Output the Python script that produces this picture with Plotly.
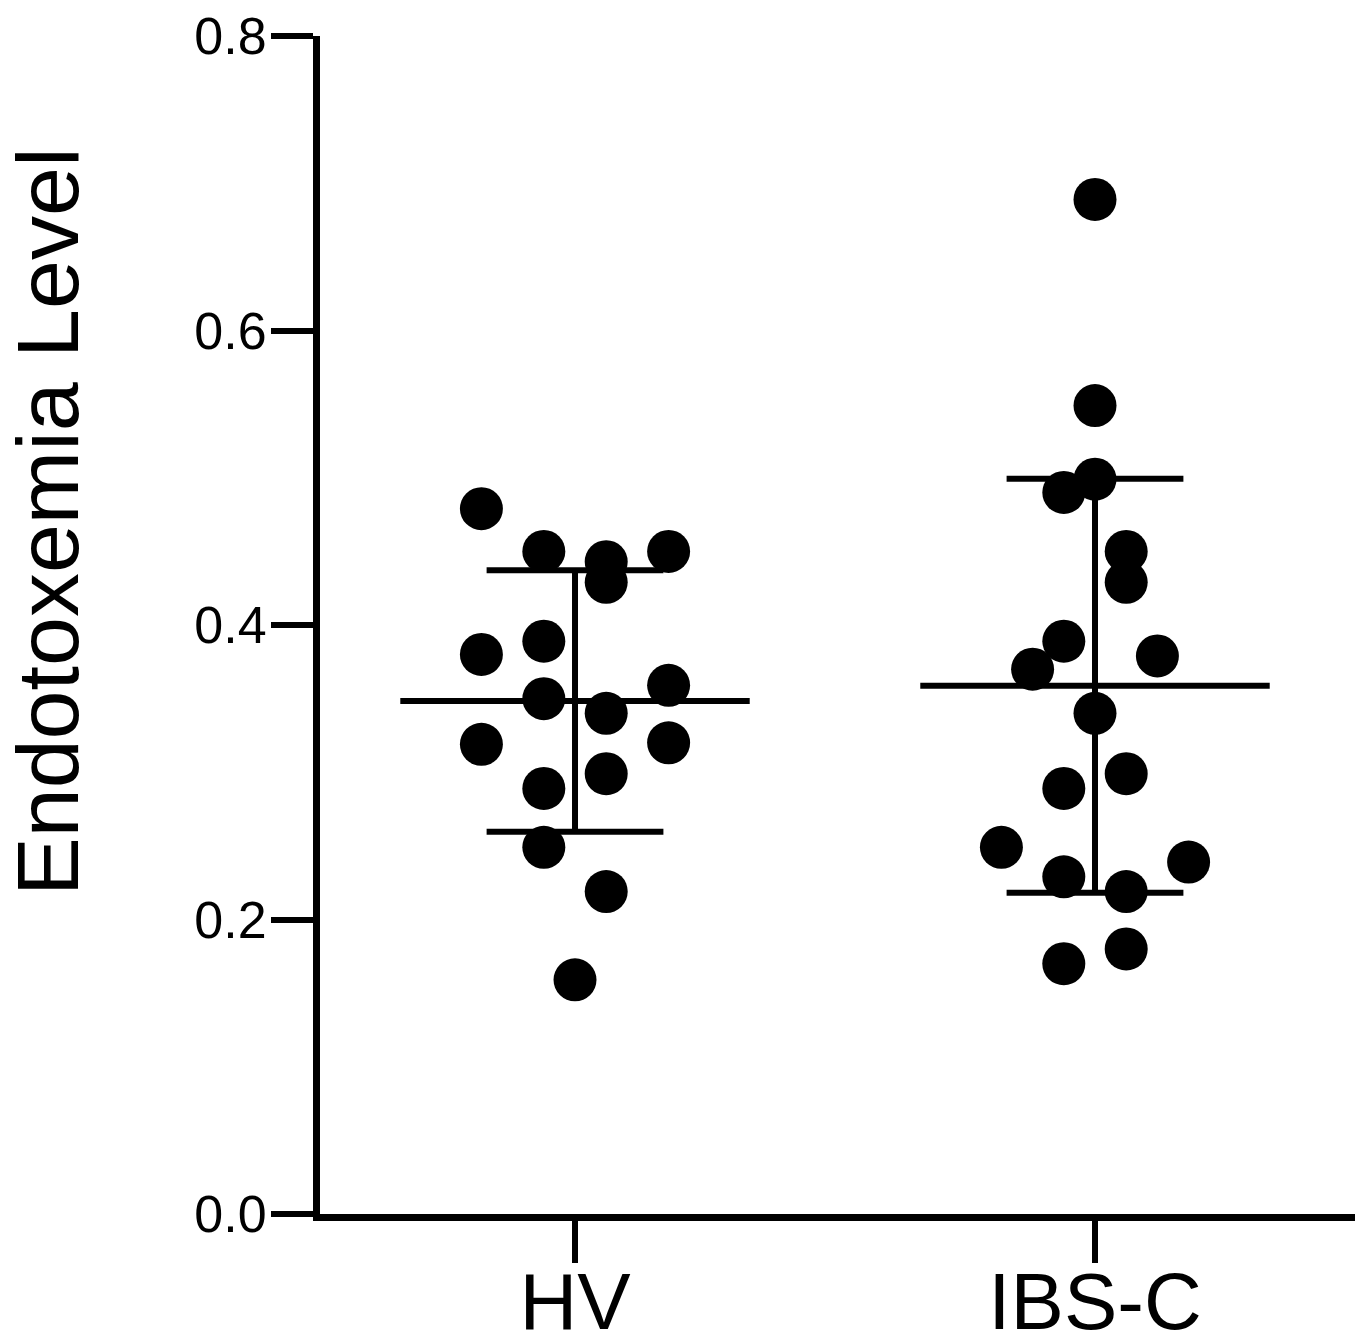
import numpy as np
import plotly.graph_objects as go

# Endotoxemia level per subject
groups = ["HV", "IBS-C"]
hv_values = [0.479, 0.450, 0.443, 0.450, 0.429, 0.380, 0.389, 0.359, 0.350,
             0.340, 0.319, 0.320, 0.299, 0.289, 0.249, 0.219, 0.159]
ibs_values = [0.689, 0.549, 0.499, 0.490, 0.450, 0.429, 0.389, 0.370, 0.379,
              0.340, 0.299, 0.289, 0.249, 0.239, 0.229, 0.219, 0.180, 0.170]
# horizontal scatter slot of each dot (column index around the group centre)
hv_slot = [-3, -1, 1, 3, 1, -3, -1, 3, -1, 1, -3, 3, 1, -1, -1, 1, 0]
ibs_slot = [0, 0, 0, -1, 1, 1, -1, -2, 2, 0, 1, -1, -3, 3, -1, 1, 1, -1]

y_ticks = [0.0, 0.2, 0.4, 0.6, 0.8]

SLOT_STEP = 0.06
MEAN_HALF = 0.336
CAP_HALF = 0.17
LINE_W = 6
FONT = "Arial, 'Liberation Sans', sans-serif"

fig = go.Figure()

for gi, (vals, slots) in enumerate([(hv_values, hv_slot), (ibs_values, ibs_slot)]):
    vals = np.asarray(vals)
    m = vals.mean()
    sd = vals.std(ddof=1)
    line = dict(color="black", width=LINE_W)
    # mean line
    fig.add_trace(go.Scatter(x=[gi - MEAN_HALF, gi + MEAN_HALF], y=[m, m],
                             mode="lines", line=line, hoverinfo="skip"))
    # SD whisker with caps
    fig.add_trace(go.Scatter(x=[gi, gi], y=[m - sd, m + sd],
                             mode="lines", line=line, hoverinfo="skip"))
    for yv in (m - sd, m + sd):
        fig.add_trace(go.Scatter(x=[gi - CAP_HALF, gi + CAP_HALF], y=[yv, yv],
                                 mode="lines", line=line, hoverinfo="skip"))
    # individual subjects
    fig.add_trace(go.Scatter(x=gi + np.asarray(slots) * SLOT_STEP, y=vals,
                             mode="markers",
                             marker=dict(color="black", size=43, line=dict(width=0)),
                             name=groups[gi]))

fig.update_layout(
    width=1365, height=1344,
    margin=dict(l=320, r=10, t=36, b=130),
    plot_bgcolor="white", paper_bgcolor="white",
    showlegend=False,
    font=dict(family=FONT, color="black"),
)

fig.update_xaxes(
    range=[-0.4904, 1.5], tickvals=[0, 1], ticktext=groups,
    showgrid=False, zeroline=False, automargin=False,
    showline=True, linecolor="black", linewidth=7,
    ticks="outside", ticklen=42, tickwidth=6, tickcolor="black",
    ticklabelstandoff=-30,
    tickfont=dict(size=80, family=FONT, color="black"),
)
fig.update_yaxes(
    range=[0, 0.8], tickvals=y_ticks, ticktext=[f"{t:.1f}" for t in y_ticks],
    showgrid=False, zeroline=False, automargin=False,
    showline=True, linecolor="black", linewidth=7,
    ticks="outside", ticklen=42, tickwidth=6, tickcolor="black",
    ticklabelstandoff=-6,
    tickfont=dict(size=52, family=FONT, color="black"),
)

fig.add_annotation(
    text="Endotoxemia Level", textangle=-90,
    xref="paper", yref="paper", x=(47 - 320) / 1035, y=(1214 - 522) / 1178,
    xanchor="center", yanchor="middle", showarrow=False,
    font=dict(size=88, family=FONT, color="black"),
)

fig.write_html("out.html")
